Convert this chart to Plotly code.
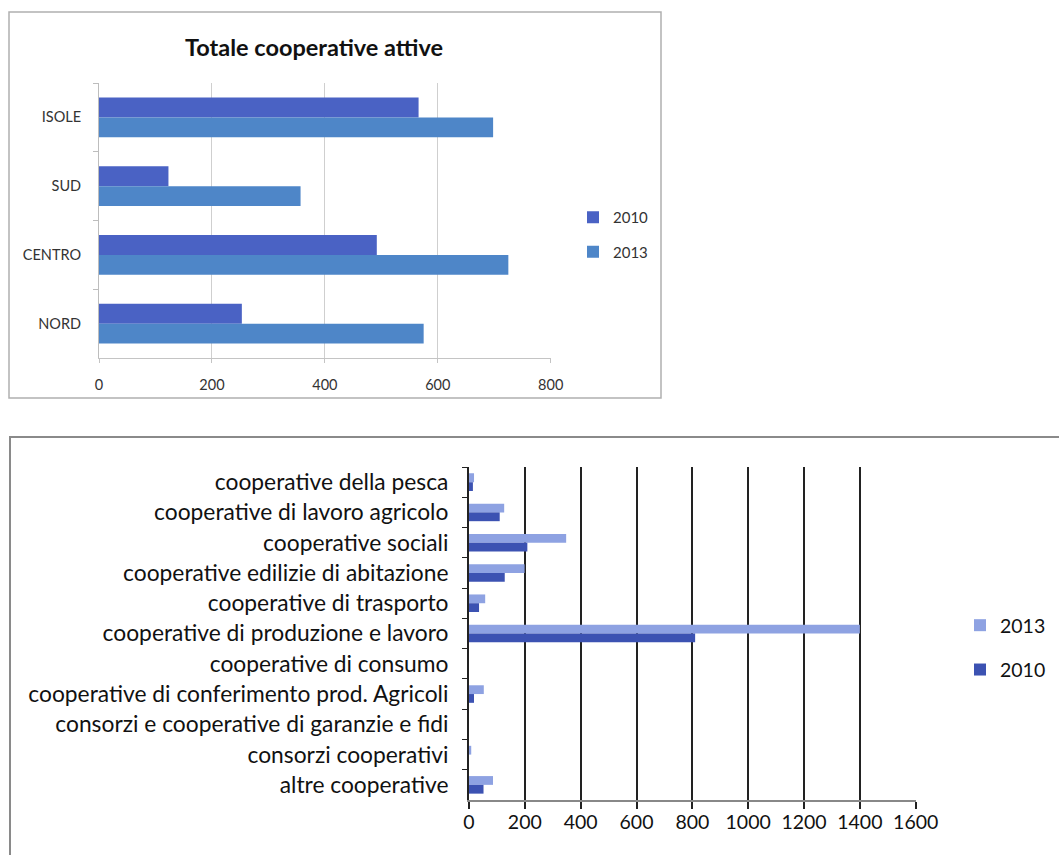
import plotly.graph_objects as go

# ---- Top chart data ----
regions = ["ISOLE", "SUD", "CENTRO", "NORD"]
tot_2010 = [566, 123, 492, 253]
tot_2013 = [698, 357, 725, 575]

# ---- Bottom chart data ----
types = [
    "cooperative della pesca",
    "cooperative di lavoro agricolo",
    "cooperative sociali",
    "cooperative edilizie di abitazione",
    "cooperative di trasporto",
    "cooperative di produzione e lavoro",
    "cooperative di consumo",
    "cooperative di conferimento prod. Agricoli",
    "consorzi e cooperative di garanzie e fidi",
    "consorzi cooperativi",
    "altre cooperative",
]
typ_2013 = [18, 126, 348, 199, 58, 1400, 0, 53, 0, 8, 86]
typ_2010 = [14, 110, 209, 128, 36, 810, 0, 18, 0, 0, 52]

top_x_ticks = [0, 200, 400, 600, 800]
bot_x_ticks = [0, 200, 400, 600, 800, 1000, 1200, 1400, 1600]

FONT = "Lato, 'Open Sans', sans-serif"
W, H = 1059, 855

fig = go.Figure()

fig.add_trace(go.Bar(y=regions, x=tot_2010, name="2010", orientation="h",
                     marker=dict(color="#4a62c4", line=dict(width=0)),
                     xaxis="x", yaxis="y", legend="legend", legendgroup="a"))
fig.add_trace(go.Bar(y=regions, x=tot_2013, name="2013", orientation="h",
                     marker=dict(color="#4e86c8", line=dict(width=0)),
                     xaxis="x", yaxis="y", legend="legend", legendgroup="b"))

fig.add_trace(go.Bar(y=types, x=typ_2013, name="2013", orientation="h",
                     marker=dict(color="#8ea2e2", line=dict(width=0)),
                     xaxis="x2", yaxis="y2", legend="legend2", legendgroup="c"))
fig.add_trace(go.Bar(y=types, x=typ_2010, name="2010", orientation="h",
                     marker=dict(color="#3c52b2", line=dict(width=0)),
                     xaxis="x2", yaxis="y2", legend="legend2", legendgroup="d"))

def px(x):
    return x / W

def py(y):
    return 1 - y / H

fig.update_layout(
    width=W, height=H, autosize=False,
    margin=dict(l=0, r=0, t=0, b=0, autoexpand=False),
    paper_bgcolor="white", plot_bgcolor="white",
    font=dict(family=FONT, color="#222"),
    barmode="group", bargap=0.42, bargroupgap=0,
    xaxis=dict(domain=[px(99), px(550.7)], anchor="y", range=[0, 800],
               tickvals=top_x_ticks, showgrid=True, gridcolor="#cfcfcf", gridwidth=1,
               zeroline=False, showline=True, linecolor="#c4c4c4", linewidth=1,
               ticks="outside", ticklen=4, tickcolor="#c4c4c4",
               tickfont=dict(size=14.5, color="#333"), ticklabelstandoff=10),
    yaxis=dict(domain=[py(358), py(83)], anchor="x", autorange="reversed",
               type="category", showline=True, linecolor="#bdbdbd", linewidth=1,
               ticks="outside", tickson="boundaries", ticklen=5, tickcolor="#bdbdbd",
               tickfont=dict(size=14.5, color="#333"), ticklabelstandoff=14),
    xaxis2=dict(domain=[px(469), px(915.7)], anchor="y2", range=[0, 1600],
                tickvals=bot_x_ticks, showgrid=True, gridcolor="#222", gridwidth=2,
                zeroline=False, showline=True, linecolor="#888", linewidth=2,
                ticks="outside", ticklen=7, tickwidth=2, tickcolor="#222",
                tickfont=dict(size=19.5, color="#111"), ticklabelstandoff=-3),
    yaxis2=dict(domain=[py(800), py(467)], anchor="x2", autorange="reversed",
                type="category", showline=True, linecolor="#222", linewidth=2,
                ticks="outside", tickson="boundaries", ticklen=5, tickcolor="#222",
                tickfont=dict(size=22.8, color="#111"), ticklabelstandoff=14),
    legend=dict(x=px(573), y=py(201), xanchor="left", yanchor="top",
                font=dict(size=15, color="#333"), tracegroupgap=12,
                bgcolor="rgba(0,0,0,0)", itemwidth=30),
    legend2=dict(x=px(960), y=py(606), xanchor="left", yanchor="top",
                 font=dict(size=19.5, color="#111"), tracegroupgap=16,
                 bgcolor="rgba(0,0,0,0)", itemwidth=30),
    showlegend=True,
)

fig.add_annotation(text="<b>Totale cooperative attive</b>", x=px(314), y=py(47),
                   xref="paper", yref="paper", xanchor="center", yanchor="middle",
                   showarrow=False, font=dict(size=23.5, color="#111", family=FONT))

# chart frames
fig.add_shape(type="rect", xref="paper", yref="paper",
              x0=px(9), x1=px(661), y0=py(398), y1=py(12),
              line=dict(color="#b0b0b0", width=1.5), fillcolor="rgba(0,0,0,0)")
fig.add_shape(type="rect", xref="paper", yref="paper",
              x0=px(10), x1=px(1100), y0=py(870), y1=py(437),
              line=dict(color="#8a8a8a", width=2), fillcolor="rgba(0,0,0,0)")

post = ("document.documentElement.style.overflow='hidden';"
        "document.body.style.margin='0px';document.body.style.overflow='hidden';"
        "Plotly.relayout('{plot_id}', {width: 1059, height: 855});")

fig.write_html("out.html", config={"displayModeBar": False}, post_script=post)
